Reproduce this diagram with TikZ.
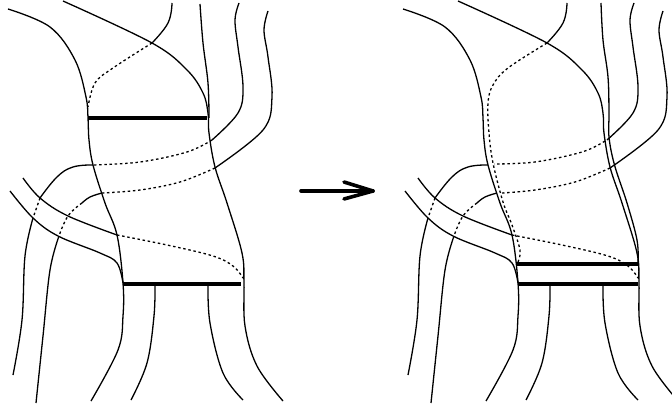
\documentclass[tikz,border=0pt]{standalone}
\usepackage{tikz}

\tikzset{
  strand/.style={line width=1.3pt,black},
  hidden/.style={line width=1.3pt,black,dash pattern=on 2.5pt off 2.7pt},
  bar/.style={line width=3.8pt,black},
  bigarrow/.style={line width=3.6pt,black,line cap=round,line join=round},
}

% strands that are the same on both sides
\newcommand{\commonstrands}{
  % long left strand and long right strand
  \draw[strand] plot[smooth,tension=0.6] coordinates {(8,9) (50,27) (75,60) (86,97) (88,118) (89,140) (93,165) (105,203) (117,235) (123,283) (123,316) (118,350) (91,401)};
  \draw[strand] plot[smooth,tension=0.6] coordinates {(63,1) (152,43) (187,70) (203,93) (208,113) (209,133) (215,167) (227,203) (242,253) (244,283) (245,326) (257,366) (283,401)};
  % top strand
  \draw[strand] plot[smooth,tension=0.7] coordinates {(172,3) (168,23) (152,43)};
  % the two strands going over
  \draw[strand] plot[smooth,tension=0.6] coordinates {(239,3) (235,20) (238,47) (243,87) (238,113) (212,140)};
  \draw[strand] plot[smooth,tension=0.6] coordinates {(268,11) (264,30) (268,57) (272,97) (263,130) (215,168)};
  \draw[strand] plot[smooth,tension=0.7] coordinates {(93,165) (73,167) (57,177) (40,198)};
  \draw[strand] plot[smooth,tension=0.7] coordinates {(102,193) (90,197) (82,203)};
  \draw[hidden] plot[smooth,tension=0.7] coordinates {(40,198) (33,218)};
  \draw[hidden] plot[smooth,tension=0.7] coordinates {(82,203) (68,216) (59,236)};
  \draw[strand] plot[smooth,tension=0.6] coordinates {(33,218) (25,256) (22,320) (13,375)};
  \draw[strand] plot[smooth,tension=0.6] coordinates {(59,236) (50,270) (43,336) (36,403)};
  % strands from the left
  \draw[strand] plot[smooth,tension=0.6] coordinates {(23,178) (40,198) (68,216) (117,235)};
  \draw[strand] plot[smooth,tension=0.6] coordinates {(10,191) (33,218) (58,236) (100,253) (117,263) (123,283)};
  \draw[hidden] plot[smooth,tension=0.6] coordinates {(117,235) (167,245) (213,256) (233,266) (243,278)};
  % lower strands
  \draw[strand] plot[smooth,tension=0.6] coordinates {(155,284) (154,316) (147,363) (131,400)};
  \draw[strand] plot[smooth,tension=0.6] coordinates {(208,284) (210,323) (223,373) (243,400)};
}

\begin{document}
\begin{tikzpicture}[x=1pt,y=-1pt]
    \clip (0,0) rectangle (672,406);
    % --- left: before ---
    \begin{scope}
      \commonstrands
      \draw[strand] plot[smooth,tension=0.6] coordinates {(200,4) (203,43) (208,83) (209,118)};
      \draw[hidden] plot[smooth,tension=0.6] coordinates {(152,43) (113,68) (95,83) (88,107)};
      \draw[hidden] plot[smooth,tension=0.6] coordinates {(212,140) (187,152) (140,162) (93,165)};
      \draw[hidden] plot[smooth,tension=0.6] coordinates {(215,168) (180,182) (140,190) (102,193)};
      \draw[bar] (88,118) -- (207,118);
      \draw[bar] (123,284) -- (241,284);
    \end{scope}
    % --- arrow ---
    \coordinate (from) at (301,191);
    \coordinate (to) at (373,191);
    \coordinate (barbup) at (344,182);
    \coordinate (barbdown) at (344,199);
    \draw[bigarrow] (from) -- (to);
    \draw[bigarrow] (barbup) -- (to) -- (barbdown);
    % --- right: after ---
    \begin{scope}[xshift=395pt]
      \commonstrands
      \draw[strand] plot[smooth,tension=0.6] coordinates {(206,3) (208,40) (213,77) (214,113) (214,137) (219.5,165) (232,203) (242,240) (243,263)};
      \draw[hidden] plot[smooth,tension=0.6] coordinates {(152,43) (113,68) (98,85) (93,103) (94,133) (98,163) (108,202) (117,225) (125,250) (123,262)};
      \draw[hidden] plot[smooth,tension=0.6] coordinates {(210,141) (187,152) (140,162) (99,164)};
      \draw[hidden] plot[smooth,tension=0.6] coordinates {(215,168) (180,182) (140,190) (107,193)};
      \draw[bar] (122,264) -- (243,264);
      \draw[bar] (123,284) -- (243,284);
    \end{scope}
  \end{tikzpicture}
\end{document}
